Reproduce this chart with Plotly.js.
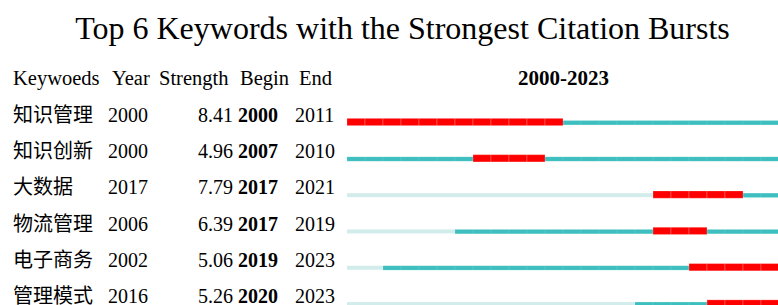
<!DOCTYPE html>
<html>
<head>
<meta charset="utf-8">
<script src="https://cdn.plot.ly/plotly-3.0.1.min.js"></script>
<style>html,body{margin:0;padding:0;background:#fff;}#chart{width:778px;height:305px;}</style>
</head>
<body>
<div id="chart"></div>
<script>
// ---- data ----
var titleText = "Top 6 Keywords with the Strongest Citation Bursts";
var headers = ["Keywoeds", "Year", "Strength", "Begin", "End"];
var rangeLabel = "2000-2023";
var keywords = ["知识管理", "知识创新", "大数据", "物流管理", "电子商务", "管理模式"];
var firstYear = [2000, 2000, 2017, 2006, 2002, 2016];
var strength = [8.41, 4.96, 7.79, 6.39, 5.06, 5.26];
var beginYear = [2000, 2007, 2017, 2017, 2019, 2020];
var endYear = [2011, 2010, 2021, 2019, 2023, 2023];
var startYear = 2000;
var lastYear = 2023;

// ---- build segments ----
var light = {x: [], base: [], y: []};
var teal = {x: [], base: [], y: []};
var red = {x: [], base: [], y: []};
for (var i = 0; i < keywords.length; i++) {
  for (var yr = startYear; yr <= lastYear; yr++) {
    var tgt;
    if (yr >= beginYear[i] && yr <= endYear[i]) tgt = red;
    else if (yr < firstYear[i]) tgt = light;
    else tgt = teal;
    tgt.x.push(1); tgt.base.push(yr); tgt.y.push(i);
  }
}

var traces = [
  {type: 'bar', orientation: 'h', x: light.x, base: light.base, y: light.y,
   width: 0.11, offset: -0.04, marker: {color: '#D2ECEC', line: {width: 0}}, hoverinfo: 'skip'},
  {type: 'bar', orientation: 'h', x: teal.x, base: teal.base, y: teal.y,
   width: 0.12, offset: -0.04, marker: {color: '#3EBFBF', line: {width: 0.4, color: 'rgba(255,255,255,0.2)'}}, hoverinfo: 'skip'},
  {type: 'bar', orientation: 'h', x: red.x, base: red.base, y: red.y,
   width: 0.2, offset: -0.1, marker: {color: '#FF0000', line: {width: 0.5, color: 'rgba(255,255,255,0.45)'}}, hoverinfo: 'skip'}
];

var W = 778;
var font = "Liberation Serif, Times New Roman, Noto Sans CJK SC, serif";
var annotations = [];
var headerX = [11, 110, 157, 238, 297];
for (var h = 0; h < headers.length; h++) {
  annotations.push({xref: 'paper', yref: 'y', x: headerX[h] / W, y: -1.21, xanchor: 'left', yanchor: 'middle',
    text: headers[h], showarrow: false, font: {family: font, size: 20.5, color: '#000'}});
}
annotations.push({xref: 'x', yref: 'y', x: (startYear + lastYear + 1) / 2, y: -1.21, xanchor: 'center', yanchor: 'middle',
  text: '<b>' + rangeLabel + '</b>', showarrow: false, font: {family: font, size: 21, color: '#000'}});
for (var r = 0; r < keywords.length; r++) {
  var yy = r - 0.2;
  annotations.push({xref: 'paper', yref: 'y', x: 11 / W, y: yy, xanchor: 'left', yanchor: 'middle',
    text: keywords[r], showarrow: false, font: {family: font, size: 20, color: '#000'}});
  annotations.push({xref: 'paper', yref: 'y', x: 106 / W, y: yy, xanchor: 'left', yanchor: 'middle',
    text: String(firstYear[r]), showarrow: false, font: {family: font, size: 20, color: '#000'}});
  annotations.push({xref: 'paper', yref: 'y', x: 235 / W, y: yy, xanchor: 'right', yanchor: 'middle',
    text: strength[r].toFixed(2), showarrow: false, font: {family: font, size: 20, color: '#000'}});
  annotations.push({xref: 'paper', yref: 'y', x: 235.5 / W, y: yy, xanchor: 'left', yanchor: 'middle',
    text: '<b>' + beginYear[r] + '</b>', showarrow: false, font: {family: font, size: 20, color: '#000'}});
  annotations.push({xref: 'paper', yref: 'y', x: 293 / W, y: yy, xanchor: 'left', yanchor: 'middle',
    text: String(endYear[r]), showarrow: false, font: {family: font, size: 20, color: '#000'}});
}

var yStep = 36.3, y0px = 122;
var layout = {
  width: 778, height: 305,
  margin: {l: 0, r: 0, t: 0, b: 0, pad: 0},
  paper_bgcolor: '#fff', plot_bgcolor: '#fff',
  showlegend: false, barmode: 'overlay', hovermode: false,
  title: {text: titleText, font: {family: font, size: 32, color: '#000'},
    x: 402.5 / W, xanchor: 'center', xref: 'paper', y: 1 - 28 / 305, yanchor: 'middle', yref: 'container'},
  xaxis: {domain: [347 / W, 1], range: [startYear, startYear + (W - 347) / 18],
    showgrid: false, zeroline: false, showticklabels: false, showline: false, ticks: '', fixedrange: true},
  yaxis: {range: [(305 - y0px) / yStep, -y0px / yStep],
    showgrid: false, zeroline: false, showticklabels: false, showline: false, ticks: '', fixedrange: true},
  annotations: annotations
};

Plotly.newPlot('chart', traces, layout, {displayModeBar: false, staticPlot: true});
</script>
</body>
</html>
